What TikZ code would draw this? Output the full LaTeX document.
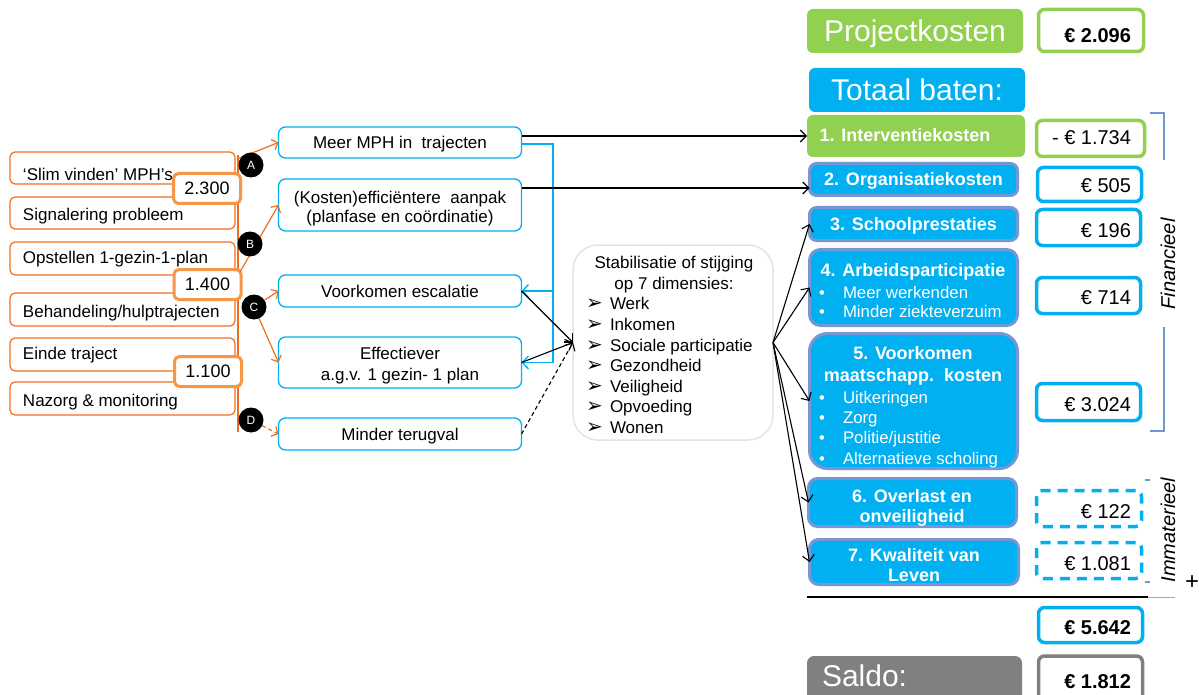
\documentclass[tikz,border=0pt]{standalone}
\usepackage{fontspec}
\setmainfont{Liberation Sans}
\newfontfamily\dv{DejaVu Sans}
\usetikzlibrary{arrows.meta,calc}
\definecolor{grF}{RGB}{146,208,80}
\definecolor{cyF}{RGB}{0,176,240}
\definecolor{stl}{RGB}{118,150,214}
\definecolor{orT}{RGB}{242,110,30}
\definecolor{orN}{RGB}{247,150,70}
\definecolor{beig}{RGB}{232,228,214}
\definecolor{gry}{RGB}{128,128,128}
\definecolor{brk}{RGB}{110,150,210}
\newcommand\fs[1]{\fontsize{#1}{#1}\selectfont}
\newcommand\arw{\makebox[24pt][l]{\raisebox{-0.5pt}{\dv\fs{20}➢}}}
\begin{document}
\begin{tikzpicture}[x=1pt,y=-1pt,
 box/.style={inner sep=0pt, outer sep=0pt},
 lbox/.style={box, draw=orT, line width=1.2pt, rounded corners=5pt, fill=white, minimum width=225pt},
 ltxt/.style={box, anchor=west, font=\fs{17}, text height=12.2pt, text depth=0pt},
 numbox/.style={box, draw=orN, line width=3pt, rounded corners=5pt, fill=white, minimum width=67pt, minimum height=30pt, font=\fs{18}, text height=12.9pt, text depth=0pt},
 circ/.style={box, circle, fill=black, text=white, minimum size=25pt, font=\fs{12}},
 orarr/.style={draw=orT, line width=1.2pt, -{Straight Barb[length=5pt,width=11pt]}},
 mbox/.style={box, draw=cyF, line width=1.3pt, rounded corners=7pt, fill=white, minimum width=243pt},
 mtxt/.style={box, font=\fs{17}, text height=12.2pt, text depth=0pt},
 blarr/.style={draw=black, line width=1.1pt, -{Straight Barb[length=6pt,width=12pt]}},
 cyarr/.style={draw=cyF, line width=1.4pt, -{Straight Barb[length=6pt,width=13pt]}},
 ctxt/.style={box, font=\fs{17}, text height=12.2pt, text depth=0pt},
 rg/.style={box, fill=grF, rounded corners=6pt},
 rc/.style={box, fill=cyF, draw=stl, line width=3pt, rounded corners=7pt},
 vb/.style={box, fill=white, line width=3.5pt, rounded corners=6pt},
 rt/.style={box, text=white, font=\bfseries\fs{18}, text height=12.9pt, text depth=0pt},
 vt/.style={box, anchor=east, font=\fs{20}, text height=14.3pt, text depth=0pt},
 big/.style={box, text=white, font=\fs{30}, text height=21.5pt, text depth=0pt},
 bt/.style={box, anchor=west, text=white, font=\fs{16.8}, text height=12pt, text depth=0pt},
 brline/.style={draw=brk, line width=1.2pt}
]
\useasboundingbox (0,0) rectangle (1199,695);
\clip (0,0) rectangle (1199,695);
\fill[white] (0,0) rectangle (1199,695);

% ---------- left column ----------
\coordinate (vt) at (238,155);
\coordinate (vb) at (238,432);
\draw[orT, line width=1.2pt] (vt) -- (vb);

\node[lbox, minimum height=32pt] (l1) at (122.5,168) {};
\node[ltxt] (l1t) at (23,174) {‘Slim vinden’ MPH’s};
\node[lbox, minimum height=32pt] (l2) at (122.5,213) {};
\node[ltxt] (l2t) at (23,214) {Signalering probleem};
\node[lbox, minimum height=33pt] (l3) at (122.5,258.5) {};
\node[ltxt] (l3t) at (23,257) {Opstellen 1-gezin-1-plan};
\node[lbox, minimum height=33pt] (l4) at (122.5,309.5) {};
\node[ltxt] (l4t) at (23,311) {Behandeling/hulptrajecten};
\node[lbox, minimum height=33pt] (l5) at (122.5,354.5) {};
\node[ltxt] (l5t) at (23,353) {Einde traject};
\node[lbox, minimum height=33pt] (l6) at (122.5,398.5) {};
\node[ltxt] (l6t) at (23,400) {Nazorg \& monitoring};

\node[numbox] (n1) at (207,188.5) {2.300};
\node[numbox] (n2) at (207.5,284.5) {1.400};
\node[numbox] (n3) at (208,371.5) {1.100};

% ---------- middle boxes ----------
\node[mbox, mtxt, minimum height=31pt] (m1) at (400,142.5) {Meer MPH in\ \ trajecten};
\node[mbox, minimum height=52pt] (m2) at (400,205) {};
\node[mtxt] (m2a) at (400,197) {(Kosten)efficiëntere\ \ aanpak};
\node[mtxt] (m2b) at (400,216) {(planfase en coördinatie)};
\node[mbox, mtxt, minimum height=32pt] (m3) at (400,291) {Voorkomen escalatie};
\node[mbox, minimum height=51pt] (m4) at (400,362.5) {};
\node[mtxt] (m4a) at (400,353) {Effectiever};
\node[mtxt] (m4b) at (400,374) {a.g.v. 1 gezin- 1 plan};
\node[mbox, mtxt, minimum height=32pt] (m5) at (400,434) {Minder terugval};

% orange arrows
\coordinate (a0) at (237,159);
\coordinate (b0) at (240,272);
\draw[orarr] (a0) -- (m1.west);
\draw[orarr] (b0) -- (m2.west);
\node[circ] (A) at (251,165) {A};
\node[circ] (B) at (250,244) {B};
\node[circ] (C) at (254,307) {C};
\node[circ] (D) at (251,420) {D};
\draw[orarr] (C) -- (m3.west);
\draw[orarr] (C) -- (m4.west);
\draw[orarr, dash pattern=on 4pt off 3pt] (D) -- (m5.west);

% blue feedback connector
\coordinate (bx) at (553,144);
\draw[cyarr] (m1.east |- bx) -- (bx) -- (bx |- m4.east) -- (m4.east);
\draw[cyarr] (bx |- m3.east) -- (m3.east);

% ---------- centre box ----------
\node[box, draw=beig, line width=1.5pt, rounded corners=25pt, fill=white, minimum width=200pt, minimum height=195pt] (cb) at (673,342.5) {};
\node[ctxt] (c1) at (674,262) {Stabilisatie of stijging};
\node[ctxt] (c2) at (674,283) {op 7 dimensies:};
\node[ctxt, anchor=west] (w1) at (586,303) {\arw Werk};
\node[ctxt, anchor=west] (w2) at (586,324) {\arw Inkomen};
\node[ctxt, anchor=west] (w3) at (586,345) {\arw Sociale participatie};
\node[ctxt, anchor=west] (w4) at (586,365) {\arw Gezondheid};
\node[ctxt, anchor=west] (w5) at (586,386) {\arw Veiligheid};
\node[ctxt, anchor=west] (w6) at (586,406) {\arw Opvoeding};
\node[ctxt, anchor=west] (w7) at (586,427) {\arw Wonen};

\draw[blarr] (m3.east) -- (cb.west);
\draw[blarr] (m4.east) -- (cb.west);
\draw[blarr, dash pattern=on 4pt off 3pt] (m5.east) -- (cb.west);

% ---------- right column ----------
\node[rg, big, minimum width=216pt, minimum height=44pt] (P) at (915,31) {Projectkosten};
\node[vb, draw=grF, minimum width=105pt, minimum height=42pt] (vP) at (1091,30.5) {};
\node[vt, font=\bfseries\fs{20}] (vPt) at (1131,35) {€ 2.096};

\node[box, big, fill=cyF, rounded corners=6pt, minimum width=216pt, minimum height=44pt] (T) at (917,90) {Totaal baten:};

\node[rg, minimum width=218pt, minimum height=42pt] (r1) at (916,136) {};
\node[rt] (r1t) at (905,135) {1. Interventiekosten};
\node[vb, draw=grF, minimum width=108pt, minimum height=36pt] (v1) at (1090.5,138.5) {};
\node[vt] (v1t) at (1131,137) {- € 1.734};

\node[rc, rt, minimum width=208pt, minimum height=32pt] (r2) at (913.5,179.5) {2. Organisatiekosten};
\node[vb, draw=cyF, minimum width=104pt, minimum height=34pt] (v2) at (1089.5,184.5) {};
\node[vt] (v2t) at (1131,185) {€ 505};

\node[rc, rt, minimum width=208pt, minimum height=33pt] (r3) at (913.5,224) {3. Schoolprestaties};
\node[vb, draw=cyF, minimum width=104pt, minimum height=36pt] (v3) at (1088.5,227.5) {};
\node[vt] (v3t) at (1131,230) {€ 196};

\node[rc, rounded corners=11pt, minimum width=208pt, minimum height=76pt] (r4) at (913.5,287.5) {};
\node[rt] (r4t) at (913,270) {4. Arbeidsparticipatie};
\node[bt] (r4a) at (819,292) {\makebox[24pt][l]{•}Meer werkenden};
\node[bt] (r4b) at (819,311) {\makebox[24pt][l]{•}Minder ziekteverzuim};
\node[vb, draw=cyF, minimum width=104pt, minimum height=36pt] (v4) at (1088.5,295.5) {};
\node[vt] (v4t) at (1131,297) {€ 714};

\node[rc, rounded corners=18pt, minimum width=208pt, minimum height=135pt] (r5) at (913.5,401) {};
\node[rt] (r5t1) at (913,353) {5. Voorkomen};
\node[rt] (r5t2) at (913,375) {maatschapp.\ \ kosten};
\node[bt] (r5a) at (819,397) {\makebox[24pt][l]{•}Uitkeringen};
\node[bt] (r5b) at (819,417) {\makebox[24pt][l]{•}Zorg};
\node[bt] (r5c) at (819,437) {\makebox[24pt][l]{•}Politie/justitie};
\node[bt] (r5d) at (819,458) {\makebox[24pt][l]{•}Alternatieve scholing};
\node[vb, draw=cyF, minimum width=104pt, minimum height=37pt] (v5) at (1088.5,402) {};
\node[vt] (v5t) at (1131,404) {€ 3.024};

\node[rc, rounded corners=9pt, minimum width=208pt, minimum height=48pt] (r6) at (912.5,502.5) {};
\node[rt] (r6t1) at (912,496) {6. Overlast en};
\node[rt] (r6t2) at (912,516) {onveiligheid};
\node[vb, draw=cyF, dash pattern=on 10pt off 7pt, minimum width=105pt, minimum height=36pt] (v6) at (1089,508.5) {};
\node[vt] (v6t) at (1131,511) {€ 122};

\node[rc, rounded corners=9pt, minimum width=209pt, minimum height=45pt] (r7) at (914,562) {};
\node[rt] (r7t1) at (914,555) {7. Kwaliteit van};
\node[rt] (r7t2) at (914,575) {Leven};
\node[vb, draw=cyF, dash pattern=on 10pt off 7pt, minimum width=105pt, minimum height=36pt] (v7) at (1089,560.5) {};
\node[vt] (v7t) at (1131,563) {€ 1.081};

\coordinate (h1) at (807,597);
\coordinate (h2) at (1148,597);
\coordinate (h3) at (1175,597);
\draw[black, line width=1.3pt] (h1) -- (h2);
\draw[black!35, line width=1pt] (h2) -- (h3);
\node[box, font=\fs{24}] (plus) at (1192,583) {+};

\node[vb, draw=cyF, minimum width=104pt, minimum height=35pt] (v8) at (1090.5,625) {};
\node[vt, font=\bfseries\fs{20}] (v8t) at (1131,627) {€ 5.642};

\node[box, fill=gry, rounded corners=7pt, minimum width=215pt, minimum height=60pt] (S) at (914.5,686) {};
\node[big, anchor=west] (St) at (822,676) {Saldo:};
\node[vb, draw=gry, minimum width=104pt, minimum height=56pt] (v9) at (1090.5,684) {};
\node[vt, font=\bfseries\fs{20}] (v9t) at (1131,681) {€ 1.812};

% arrows into right column
\coordinate (k2) at (522,188);
\draw[blarr] (m1.east |- r1.west) -- (r1.west);
\draw[blarr] (k2) -- (r2.west |- k2);
\draw[blarr] (cb.east) -- (r3.west);
\draw[blarr] (cb.east) -- (r4.west);
\draw[blarr] (cb.east) -- (r5.west);
\draw[blarr] (cb.east) -- (r6.west);
\draw[blarr] (cb.east) -- (r7.west);

% brackets
\coordinate (f1) at (1150,113);
\coordinate (f2) at (1164,113);
\coordinate (f3) at (1164,160);
\coordinate (f4) at (1164,327);
\coordinate (f5) at (1164,431);
\coordinate (f6) at (1150,431);
\draw[brline] (f1) -- (f2) -- (f3);
\draw[brline] (f4) -- (f5) -- (f6);
\node[box, rotate=90, font=\itshape\fs{20}] (fin) at (1168,264) {Financieel};
\coordinate (i1) at (1145,480);
\coordinate (i2) at (1150,480);
\coordinate (i3) at (1145,582);
\coordinate (i4) at (1150,582);
\draw[brline] (i1) -- (i2);
\draw[brline] (i3) -- (i4);
\node[box, rotate=90, font=\itshape\fs{20}] (imm) at (1168,530) {Immaterieel};
\end{tikzpicture}
\end{document}
